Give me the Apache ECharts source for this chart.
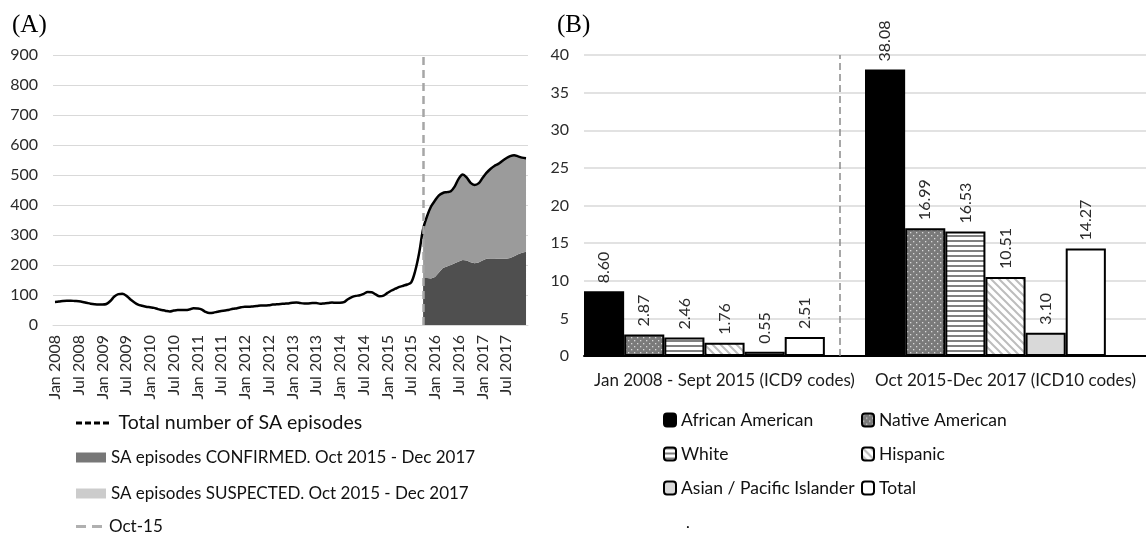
<!DOCTYPE html>
<html>
<head>
<meta charset="utf-8">
<script src="https://cdn.jsdelivr.net/npm/echarts@6/dist/echarts.min.js"></script>
<style>
html,body{margin:0;padding:0;background:#fff;}
#chart{width:1146px;height:534px;}
</style>
</head>
<body>
<div id="chart"></div>
<script>
// ---------- Panel A data ----------
const monthNames = ['Jan','Feb','Mar','Apr','May','Jun','Jul','Aug','Sep','Oct','Nov','Dec'];
const years = [2008,2009,2010,2011,2012,2013,2014,2015,2016,2017];
const months = [];
years.forEach(y => monthNames.forEach(m => months.push(m + ' ' + y)));

const totalEpisodes = [
  77, 78, 80, 81, 81, 80, 79, 77, 74, 71, 69, 68,        // 2008
  68, 70, 80, 95, 103, 104, 98, 86, 76, 68, 64, 61,      // 2009
  59, 57, 53, 50, 47, 45, 48, 50, 50, 50, 52, 56,        // 2010
  55, 52, 44, 40, 41, 44, 47, 48, 51, 54, 56, 59,        // 2011
  61, 61, 62, 63, 65, 65, 66, 68, 69, 70, 71, 72,        // 2012
  74, 75, 73, 72, 72, 73, 73, 71, 72, 73, 75, 74,        // 2013
  74, 76, 86, 93, 97, 99, 104, 110, 109, 102, 96, 98,    // 2014
  107, 115, 121, 127, 131, 135, 142, 180, 240, 320, 363, 395, // 2015
  415, 432, 440, 443, 446, 462, 488, 502, 492, 474, 467, 472, // 2016
  490, 507, 520, 530, 537, 547, 556, 563, 566, 562, 558, 556  // 2017
];
// Oct 2015 .. Dec 2017
const icd10Start = 'Oct 2015';
const confirmedEpisodes = [157, 157, 155, 160, 175, 190, 195, 200, 206, 212, 217, 215, 209, 206, 208, 215, 221, 222, 222, 221, 221, 221, 223, 229, 236, 241, 244];
const suspectedEpisodes = [163, 206, 240, 255, 257, 250, 248, 246, 256, 276, 285, 277, 265, 261, 264, 275, 286, 298, 308, 316, 326, 335, 340, 337, 326, 317, 312];

// ---------- Panel B data ----------
const periods = ['Jan 2008 - Sept 2015 (ICD9 codes)', 'Oct 2015-Dec 2017 (ICD10 codes)'];
const africanAmerican = [8.60, 38.08];
const nativeAmerican = [2.87, 16.99];
const whiteRate = [2.46, 16.53];
const hispanic = [1.76, 10.51];
const asianPacific = [0.55, 3.10];
const totalRate = [2.51, 14.27];
const periodSplit = 0.91; // separator between the two periods on the category span

const FONT = 'Lato';
const TXT = '#2b2b2b';

const startIdx = months.indexOf(icd10Start);
const pad = arr => months.map((m, i) => i < startIdx ? '-' : arr[i - startIdx]);

// patterns
function mk(w, h, draw) {
  const c = document.createElement('canvas'); c.width = w; c.height = h;
  draw(c.getContext('2d')); return { image: c, repeat: 'repeat' };
}
const dots = mk(6, 6, g => {
  g.fillStyle = '#7a7a7a'; g.fillRect(0, 0, 6, 6);
  g.fillStyle = '#d8d8d8'; g.fillRect(1, 1, 1.3, 1.3); g.fillRect(4, 4, 1.3, 1.3);
});
const hStripes = mk(4, 5, g => {
  g.fillStyle = '#ffffff'; g.fillRect(0, 0, 4, 5);
  g.fillStyle = '#808080'; g.fillRect(0, 0, 4, 2);
});
const diag = mk(8, 8, g => {
  g.fillStyle = '#ffffff'; g.fillRect(0, 0, 8, 8);
  g.strokeStyle = '#bdbdbd'; g.lineWidth = 2;
  g.beginPath();
  g.moveTo(-1, -1); g.lineTo(9, 9);
  g.moveTo(-5, 3); g.lineTo(5, 13);
  g.moveTo(3, -5); g.lineTo(13, 5);
  g.stroke();
});

const dashIcon = 'path://M0,0h6v3h-6z M9,0h6v3h-6z M18,0h6v3h-6z M27,0h6v3h-6z';
const dash2Icon = 'path://M0,0h10v3h-10z M16,0h10v3h-10z';

const barLabel = {
  show: true, position: 'top', rotate: 90, align: 'left', verticalAlign: 'middle',
  distance: 8, fontFamily: FONT, fontSize: 16, color: TXT,
  formatter: p => p.value.toFixed(2)
};
function barSeries(name, data, color) {
  return {
    name, type: 'bar', xAxisIndex: 1, yAxisIndex: 1, data,
    barGap: '0%', barCategoryGap: '0%',
    itemStyle: { color, borderColor: '#000', borderWidth: 2 },
    label: barLabel
  };
}

const chart = echarts.init(document.getElementById('chart'));
chart.setOption({
  animation: false,
  backgroundColor: '#fff',
  title: [
    { text: '(A)', left: 7, top: 8, textStyle: { fontFamily: 'Liberation Serif', fontSize: 25, fontWeight: 'normal', color: '#000' } },
    { text: '(B)', left: 552, top: 8, textStyle: { fontFamily: 'Liberation Serif', fontSize: 25, fontWeight: 'normal', color: '#000' } },
    { text: '.', left: 681, top: 510, textStyle: { fontFamily: FONT, fontSize: 16, fontWeight: 'normal', color: '#000' } }
  ],
  grid: [
    { left: 53, width: 475, top: 55, height: 270 },
    { left: 584, width: 569, top: 55, height: 301 }
  ],
  xAxis: [
    { type: 'category', gridIndex: 0, data: months, boundaryGap: true,
      axisLine: { lineStyle: { color: '#d9d9d9', width: 1 } }, axisTick: { show: false },
      axisLabel: { interval: 5, rotate: 90, margin: 10, fontFamily: FONT, fontSize: 16, color: TXT } },
    { type: 'category', gridIndex: 1, data: periods,
      axisLine: { lineStyle: { color: '#000', width: 2 } }, axisTick: { show: false },
      axisLabel: { interval: 0, margin: 16, fontFamily: FONT, fontSize: 17, color: '#1a1a1a' } },
    { type: 'value', gridIndex: 1, min: 0, max: 2, show: false }
  ],
  yAxis: [
    { type: 'value', gridIndex: 0, min: 0, max: 900, interval: 100,
      axisLine: { show: false }, axisTick: { show: false },
      splitLine: { lineStyle: { color: '#d9d9d9', width: 1 } },
      axisLabel: { margin: 15, fontFamily: FONT, fontSize: 16, color: TXT } },
    { type: 'value', gridIndex: 1, min: 0, max: 40, interval: 5,
      axisLine: { show: false }, axisTick: { show: false },
      splitLine: { lineStyle: { color: '#d9d9d9', width: 1.5 } },
      axisLabel: { margin: 15, fontFamily: FONT, fontSize: 16, color: TXT } }
  ],
  legend: [
    { left: 76, top: 413, padding: 0, itemWidth: 34, itemHeight: 3, selectedMode: false,
      data: [{ name: 'Total number of SA episodes', icon: dashIcon }],
      textStyle: { fontFamily: FONT, fontSize: 19.5, color: '#111', padding: [0, 0, 0, 4] } },
    { left: 76, top: 449, padding: 0, itemWidth: 30, itemHeight: 10, selectedMode: false,
      data: [{ name: 'SA episodes CONFIRMED. Oct 2015 - Dec 2017', icon: 'rect', itemStyle: { color: '#777777' } }],
      textStyle: { fontFamily: FONT, fontSize: 17, color: '#111' } },
    { left: 76, top: 485, padding: 0, itemWidth: 30, itemHeight: 10, selectedMode: false,
      data: [{ name: 'SA episodes SUSPECTED. Oct 2015 - Dec 2017', icon: 'rect', itemStyle: { color: '#cccccc' } }],
      textStyle: { fontFamily: FONT, fontSize: 17, color: '#111' } },
    { left: 76, top: 518, padding: 0, itemWidth: 30, itemHeight: 3, selectedMode: false,
      data: [{ name: 'Oct-15', icon: dash2Icon, itemStyle: { color: '#b0b0b0' } }],
      textStyle: { fontFamily: FONT, fontSize: 17, color: '#111' } },
    { left: 663, top: 411, padding: 0, orient: 'vertical', itemWidth: 12, itemHeight: 13, itemGap: 16, selectedMode: false,
      data: ['African American', 'White', 'Asian / Pacific Islander'],
      textStyle: { fontFamily: FONT, fontSize: 17.5, color: '#111' } },
    { left: 861, top: 411, padding: 0, orient: 'vertical', itemWidth: 12, itemHeight: 13, itemGap: 16, selectedMode: false,
      data: ['Native American', 'Hispanic', 'Total'],
      textStyle: { fontFamily: FONT, fontSize: 17.5, color: '#111' } }
  ],
  series: [
    { name: 'SA episodes CONFIRMED. Oct 2015 - Dec 2017', type: 'line', xAxisIndex: 0, yAxisIndex: 0,
      stack: 'sa', data: pad(confirmedEpisodes), symbol: 'none',
      lineStyle: { width: 0 }, itemStyle: { color: '#4f4f4f' }, areaStyle: { color: '#4f4f4f', opacity: 1 } },
    { name: 'SA episodes SUSPECTED. Oct 2015 - Dec 2017', type: 'line', xAxisIndex: 0, yAxisIndex: 0,
      stack: 'sa', data: pad(suspectedEpisodes), symbol: 'none',
      lineStyle: { width: 0 }, itemStyle: { color: '#9b9b9b' }, areaStyle: { color: '#9b9b9b', opacity: 1 } },
    { name: 'Total number of SA episodes', type: 'line', xAxisIndex: 0, yAxisIndex: 0,
      data: totalEpisodes, symbol: 'none', smooth: 0.35, z: 4,
      lineStyle: { color: '#000', width: 2.5 }, itemStyle: { color: '#000' } },
    { name: 'Oct-15', type: 'line', xAxisIndex: 0, yAxisIndex: 0, data: [], symbol: 'none',
      itemStyle: { color: '#b0b0b0' }, z: 5,
      markLine: { silent: true, symbol: 'none', label: { show: false },
        lineStyle: { color: '#a6a6a6', width: 2.5, type: [8, 5] },
        data: [{ xAxis: icd10Start }] } },

    barSeries('African American', africanAmerican, '#000000'),
    barSeries('Native American', nativeAmerican, dots),
    barSeries('White', whiteRate, hStripes),
    barSeries('Hispanic', hispanic, diag),
    barSeries('Asian / Pacific Islander', asianPacific, '#d9d9d9'),
    barSeries('Total', totalRate, '#ffffff'),
    { name: '_slot', type: 'bar', xAxisIndex: 1, yAxisIndex: 1, data: ['-', '-'], barGap: '0%', barCategoryGap: '0%' },
    { name: '_split', type: 'line', xAxisIndex: 2, yAxisIndex: 1, data: [], symbol: 'none',
      markLine: { silent: true, symbol: 'none', label: { show: false },
        lineStyle: { color: '#8a8a8a', width: 1.5, type: [7, 4] },
        data: [{ xAxis: periodSplit }] } }
  ]
});
</script>
</body>
</html>
